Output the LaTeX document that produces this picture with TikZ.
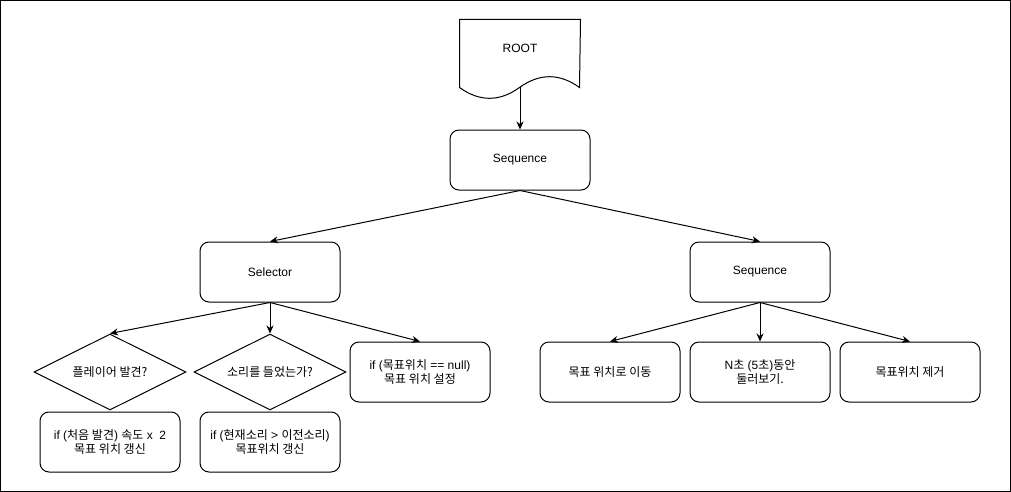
\documentclass[tikz,border=0pt]{standalone}
\usepackage{fontspec}
\setmainfont{Liberation Sans}
\newfontfamily\kr{Noto Sans CJK KR}
\usetikzlibrary{shapes.geometric,arrows.meta,calc}
\tikzstyle{line} = [draw, -{Stealth[length=8pt,width=7pt,inset=2.5pt]}]
\tikzstyle{block} = [draw, rectangle, rounded corners=9pt, align=center, minimum width=140pt, minimum height=60pt, inner sep=0pt]
\tikzstyle{decision} = [draw, diamond, aspect=2, align=center, minimum width=152pt, minimum height=76pt, inner sep=0pt]
\tikzstyle{docu} = [rectangle, minimum width=120pt, minimum height=56pt, inner sep=0pt]

\begin{document}
\begin{tikzpicture}[x=1pt, y=-1pt, line width=1pt, node distance=112pt, font=\fontsize{12}{14}\selectfont]
        \useasboundingbox (0,0) rectangle (1011,492);
        \draw (0.5,0.5) rectangle (1010.5,491.5);
        % root document shape
        \node[docu] (root) at (520,48) {ROOT};
        \draw (root.north west) -- (root.north east) -- ($(root.north west)+(120,68)$)
            .. controls +(-20,-14.4) and +(20,-14.4) .. ($(root.north west)+(60,68)$)
            .. controls +(-20,14.4) and +(20,14.4) .. ($(root.north west)+(0,68)$) -- cycle;
        \coordinate (rootbot) at ($(root.north)+(0,68)$);
        \node[block, below of=root] (seq) {Sequence};
        \node[block, below of=seq, xshift=-250pt] (sel) {Selector};
        \node[block, right of=sel, node distance=490pt] (seqr) {Sequence};
        % selector branch
        \node[decision, below of=sel, node distance=100pt] (heard) {{\kr 소리를 들었는가?}};
        \node[decision, left of=heard, node distance=160pt] (found) {{\kr 플레이어 발견?}};
        \node[block, right of=heard, node distance=150pt] (setgoal) {if ({\kr 목표위치} == null)\\{\kr 목표 위치 설정}};
        \node[block, below of=found, node distance=70pt] (updfound) {if ({\kr 처음 발견}) {\kr 속도} x\ \ 2\\{\kr 목표 위치 갱신}};
        \node[block, below of=heard, node distance=70pt] (updheard) {if ({\kr 현재소리} > {\kr 이전소리})\\{\kr 목표위치 갱신}};
        % sequence branch
        \node[block, below of=seqr, node distance=100pt] (look) {N{\kr 초} (5{\kr 초}){\kr 동안}\\{\kr 둘러보기.}};
        \node[block, left of=look, node distance=150pt] (move) {{\kr 목표 위치로 이동}};
        \node[block, right of=look, node distance=150pt] (clear) {{\kr 목표위치 제거}};
        \path[line] (rootbot) -- (seq.north);
        \path[line] (seq.south) -- (sel.north);
        \path[line] (seq.south) -- (seqr.north);
        \path[line] (sel.south) -- (found.north);
        \path[line] (sel.south) -- (heard.north);
        \path[line] (sel.south) -- (setgoal.north);
        \path[line] (seqr.south) -- (move.north);
        \path[line] (seqr.south) -- (look.north);
        \path[line] (seqr.south) -- (clear.north);
    \end{tikzpicture}
\end{document}
